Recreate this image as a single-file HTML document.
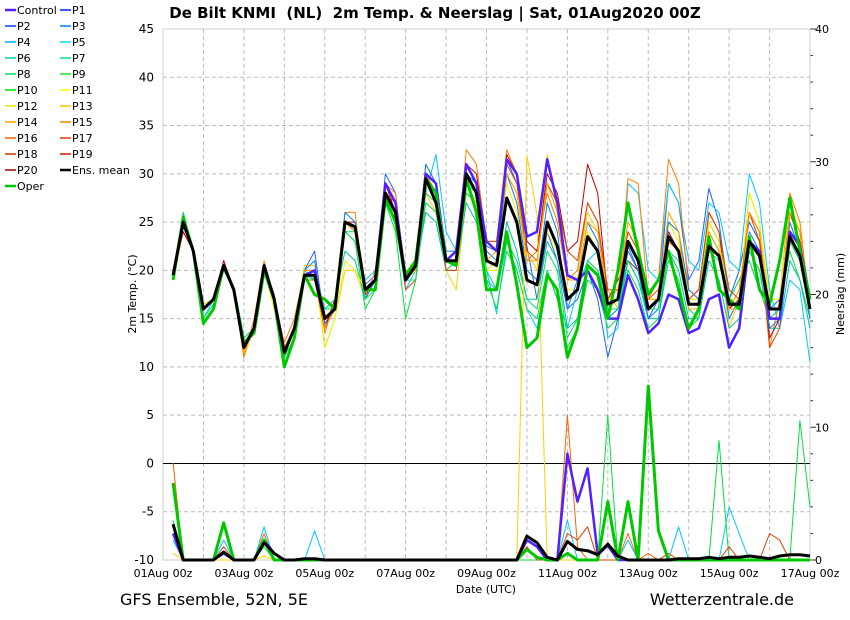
<!DOCTYPE html>
<html><head><meta charset="utf-8"><style>
body{margin:0;background:#fff;font-family:"Liberation Sans","DejaVu Sans",sans-serif}
svg{display:block}
</style></head><body>
<svg id="c" width="850" height="620" viewBox="0 0 850 620" font-family="DejaVu Sans, Liberation Sans, sans-serif">
<text x="435" y="18" text-anchor="middle" font-size="15" font-weight="bold" style="white-space:pre">De Bilt KNMI  (NL)  2m Temp. &amp; Neerslag | Sat, 01Aug2020 00Z</text>
<text x="120" y="605" font-size="16">GFS Ensemble, 52N, 5E</text>
<text x="794" y="605" font-size="16" text-anchor="end">Wetterzentrale.de</text>
<text x="486" y="593" font-size="11" text-anchor="middle">Date (UTC)</text>
<text transform="translate(136,294) rotate(-90)" font-size="11" text-anchor="middle">2m Temp. (°C)</text>
<text transform="translate(844,294) rotate(-90)" font-size="11" text-anchor="middle">Neerslag (mm)</text>
<g id="grid"></g><g id="axes"></g><g id="series"></g><g id="legend"></g>
</svg>
<script>
const dayLabels=["01Aug 00z","03Aug 00z","05Aug 00z","07Aug 00z","09Aug 00z","11Aug 00z","13Aug 00z","15Aug 00z","17Aug 00z"];
const tempTicks=[45,40,35,30,25,20,15,10,5,0,-5,-10];
const precTicks=[40,30,20,10,0];
const meanT=[19.5,25,22,16,17,20.5,18,12,14,20.5,17,11.5,14,19.5,19.5,15,16,25,24.5,18,19,28,26,19,20.5,29.5,27,21,21,30,28,21,20.5,27.5,25,19,18.5,25,22.5,17,18,23.5,22,16.5,17,23,21,16,17,23.5,22,16.5,16.5,22.5,21.5,16.5,16.5,23,21.5,16,16,23.5,21.5,16];
const operT=[19,25.5,22,14.5,16,20.5,18,12.5,13.5,20,17,10,13,19.5,17.5,17,16,25,24.5,18,18,27.5,25,19.5,21,29.5,28,21,20.5,29.5,26,18,18,24,18.5,12,13,19.5,18,11,14,20.5,19.5,15,20,27,22,17.5,19,22,18,14,16,23.5,18,17,16,23.5,18,16.5,21,27.5,22,17];
const ctrlT=[19.5,25,22,16,17,20.5,18,12,14,20.5,17,11.5,14,19.5,20,15,16,25,24.5,18,19,29,27,19,20.5,30,29,21,22,31,29,23,22,31.5,30,23.5,24,31.5,27,19.5,19,20,18,15,15,19.5,17,13.5,14.5,17.5,17,13.5,14,17,17.5,12,14,23,22,15,15,24,22.5,17];
const m1T=[19.5,25,22,16,17,21,18,12.5,14,20.5,17.5,11,14,20,22,14.5,16,25,24,18.5,19.5,30,28,19,20.5,30,28,21,22,31,29,22.5,22,31.5,29,22.5,17,24,21,16,17,20,17,11,15,22.5,20,15,17,29,27,19,21,28.5,25,17,20,25,23,16,17,26,24,17];
const m2T=[19.5,26,22,15,17,20.5,18,13,14,20,17,11,14,20,19,16,16,24,23,19,20,27,25,18,20,28,32,24,22,28,27,20,15.5,23,20,16,14,20,17,14,18,21,22,13,14,29,28,20,19,29,27,21,20,27,26,21,20,30,27,18,14,19,18,10.5];
const m3T=[19.5,25,22,16.5,17,20.5,18,11,14,20,16,12,14,20.5,20.5,12,15,20,20,17,19,27,25,19,20,28,26,20,18,28,27,20,21,30,28,22,20,32,26,19,20,26,24,18,16,24,22,16,16,25,24,17,17,24,22,14,17,28,25,16,16,28,25,16];
const m4T=[19,24,22,16,17,21,18,11,15,21,17,12.5,15,20,20,13.5,17,26,26,17,20,29,28,19,21,31,29,21,21,32.5,31,23,23,32.5,30,21,22,28,25,19,20,27,25,16,17,29.5,29,17,19,31.5,29,18,17,25,23,16,18,26,24,12,17,28,25,16];
const m5T=[20,24,22,16,17,21,18,12,14,20,17,12,14,19,19,14,17,25,25,17.5,19,29,26,19,21,30,29,21,21,31,30,23,22,32,30,23,22,30,28,22,23,31,28,17,19,21,20,16,17,24,22,17,18,26,24,16,17,26,24,13,15,26,23,16];
const m6T=[19,26,22,14.5,16,20.5,18,13,14,20,17,10,13,19,19,16,16,24,23,16,18,27,24,15,19,27,26,20,21,28,27,19,16,22,20,16,15,20,17,12,14,19,18,14,15,20,18,14,15,21,19,14,15,25,23,17,19,21,18,15,16,22,19,15];
const m7T=[19.5,25,22,16,17,20,18,12.5,14,20,17,11,14,20,20,16,17,22,21,17,19,27,25,19,20,26,25,20,20,27,25,19,18,25,22,17,17,23,21,14,15,21,20,15,15,21,19,15,15,22,20,15,15,21,19,14,15,22,20,14,14,21,19,14];
const m8T=[19.5,25,22,16,17,20.5,18,12,14,20,16,12,14,20,20,12,15,21,20,18,19,27,26,19,20,29,27,21,21,29,27,20,20,29,26,20,19,24,22,18,18,24,22,17,17,24,22,17,17,25,23,17,17,25,23,17,17,28,25,17,17,27,24,16];
const m9T=[19.5,24.5,22,16,17,20.5,18,12,14,20.5,17,11.5,14,20,21,14,16,26,25,17,19,29,27,20,20,31,29,22,22,30,29,22,21,30,27,20,19,27,24,16,19,25,23,15,16,22,20,15,16,25,24,18,17,24,22,15,17,24,22,14,15,25,22,15];
const m10T=[19.5,25,22,16,17,20.5,18,12,14,20,17,11,14,19,19,14,16,25,24,18,19,28,27,18,19,30,28,20,20,31,29,23,23,31,29,22,21,29,27,22,21,27,25,18,18,24,22,17,18,23,22,17,18,26,24,18,17,26,23,12,14,26,24,16];
const m11T=[19.5,25,22,15,16.5,20.5,18,12,14,20,17,11,13,19.5,19,15,16,24,24,17,18,28,26,19,19,28,27,21,21,29,28,20,18,23,21,17,16,22,20,13,15,21,20,16,16,21,19,16,16,22,21,16,15,22,21,16,16,22,20,16,16,23,21,16];
const m12T=[19.5,25,22,16,17,20.5,18,11.5,14,20.5,17,12,14,20,20,14,16,25,24,18,19,29,27,20,20,30,28,21,21,31,29,21,22,30,28,21,21,29,26,19,19,25,24,17,18,25,23,17,17,26,24,16,16,24,22,16,16,26,24,15,15,26,24,16];
const meanP=[2.7,0,0,0,0,0.6,0,0,0,1.3,0.5,0,0,0.1,0.1,0,0,0,0,0,0,0,0,0,0,0,0,0,0,0,0,0,0,0,0,1.8,1.3,0.2,0,1.4,0.8,0.7,0.4,1.2,0.3,0,0,0,0,0,0.1,0.1,0.1,0.2,0.1,0.2,0.2,0.3,0.2,0.1,0.3,0.4,0.4,0.3];
const ctrlP=[2,0,0,0,0,0.5,0,0,0,1.5,0.5,0,0,0,0,0,0,0,0,0,0,0,0,0,0,0,0,0,0,0,0,0,0,0,0,1.5,1,0,0,8,4.4,6.9,0.4,1.1,0,0,0,0,0,0,0,0,0,0,0,0,0,0,0,0,0,0,0,0];
const operP=[5.8,0,0,0,0,2.8,0,0,0,1.5,0,0,0,0,0,0,0,0,0,0,0,0,0,0,0,0,0,0,0,0,0,0,0,0,0,0.8,0.2,0,0,0.5,0,0,0,4.4,0,4.4,0,13.1,2.2,0,0,0,0,0,0,0,0,0,0,0,0,0,0,0];
const m6P=[3,0,0,0,0,2.8,0,0,0,1,0,0,0,0,0,0,0,0,0,0,0,0,0,0,0,0,0,0,0,0,0,0,0,0,0,0,0,0,0,0,0,0,0,10.9,0,0,0,0,0,0,0,0,0,0,9,0,0,0,0,0,0,0,10.5,4];
const m8P=[0.5,0,0,0,0,0,0,0,0,0.3,0,0,0,0,0,0,0,0,0,0,0,0,0,0,0,0,0,0,0,0,0,0,0,0,0,30.5,26,0,0,0,0,0,0,0,0,0,0,0,0,0,0,0,0,0,0,0,0,0,0,0,0,0,0,0];
const m4P=[7.3,0,0,0,0,0.5,0,0,0,2,0,0,0,0,0,0,0,0,0,0,0,0,0,0,0,0,0,0,0,0,0,0,0,0,0,0,0,0,0,10.9,1,0,0,0,0,2,0,0.5,0,0,0,0,0,0,0,0,0,0,0,0,0,0,0,0];
const m2P=[1.5,0,0,0,0,1.5,0,0,0,2.5,0,0,0,0,2.2,0,0,0,0,0,0,0,0,0,0,0,0,0,0,0,0,0,0,0,0,0,0,0,0,3,0,0,0,0,0,1.5,0,0,0,0,2.5,0,0,0,0,4,2,0,0,0,0,0,0,0];
const m10P=[2,0,0,0,0,1,0,0,0,1.5,0,0,0,0,0,0,0,0,0,0,0,0,0,0,0,0,0,0,0,0,0,0,0,0,0,1,0,0,0,2,1.5,2.5,0,0,0,0,0,0,0,0.5,0,0,0,0,0,1,0,0,0,2,1.5,0,0,0];
const NS="http://www.w3.org/2000/svg";
const X0=163,X1=810,DAYS=16;
const xDay=d=>X0+(X1-X0)*d/DAYS;
const xStep=i=>xDay((i+1)/4);
const yT=t=>29+(45-t)*(531/55);
const yP=p=>560-p*(531/40);
function mk(tag,attrs,parent){const e=document.createElementNS(NS,tag);for(const k in attrs)e.setAttribute(k,attrs[k]);parent.appendChild(e);return e;}
const grid=document.getElementById('grid'),axes=document.getElementById('axes'),ser=document.getElementById('series'),leg=document.getElementById('legend');
for(let d=1;d<DAYS;d++){const l=mk('line',{x1:xDay(d),x2:xDay(d),y1:29,y2:560,stroke:'#bbb','stroke-dasharray':'4,3'},grid);

}
tempTicks.forEach(t=>{
 if(t!==45&&t!==-10&&t!==0){const g=mk('line',{x1:X0,x2:X1,y1:yT(t),y2:yT(t),stroke:'#bbb','stroke-dasharray':'4,3'},grid);
 
 }
 const tx=mk('text',{x:154,y:yT(t)+4,'font-size':12,'text-anchor':'end'},axes);tx.textContent=t;
 
 
});
precTicks.forEach(p=>{const tx=mk('text',{x:815,y:yP(p)+4,'font-size':11},axes);tx.textContent=p;
 
 });
for(let p=0;p<=40;p+=2){mk('line',{x1:X1,x2:X1+(p%10===0?6:3),y1:yP(p),y2:yP(p),stroke:'#333'},axes);}
dayLabels.forEach((s,k)=>{const tx=mk('text',{x:xDay(k*2),y:577,'font-size':11,'text-anchor':'middle'},axes);tx.textContent=s;
 
 });
const fr=mk('rect',{x:X0,y:29,width:X1-X0,height:531,fill:'none',stroke:'#ccc'},axes);


const zl=mk('line',{x1:X0,x2:X1,y1:yT(0),y2:yT(0),stroke:'#000'},axes);


function line(vals,fy,color,w,name){const pts=vals.map((v,i)=>xStep(i).toFixed(1)+','+fy(v).toFixed(1)).join(' ');
 const e=mk('polyline',{points:pts,fill:'none',stroke:color,'stroke-width':w,'stroke-linejoin':'round'},ser);
 
 }
const members=[[m1T,'#2060ff','p1-temp-line'],[m2T,'#00c8ff','p5-temp-line'],[m3T,'#ffd000','p13-temp-line'],[m4T,'#ff8000','p15-temp-line'],[m5T,'#c00000','p20-temp-line'],[m6T,'#00e040','p9-temp-line'],[m7T,'#00c0a0','p7-temp-line'],[m8T,'#f0f000','p11-temp-line'],[m9T,'#0080ff','p3-temp-line'],[m10T,'#e04000','p17-temp-line'],[m11T,'#00e060','p8-temp-line'],[m12T,'#ffa000','p14-temp-line']];
members.forEach(m=>line(m[0],yT,m[1],1,m[2]));
line(m2P,yP,'#00c8ff',1,'p5-precip-line');
line(m4P,yP,'#ff6000',1,'p15-precip-line');
line(m6P,yP,'#00e040',1,'p9-precip-line');
line(m8P,yP,'#ffd000',1,'p11-precip-line');
line(m10P,yP,'#e04000',1,'p17-precip-line');
line(ctrlT,yT,'#5020ff',2.5,'control-temp-line');
line(ctrlP,yP,'#5020ff',2.5,'control-precip-line');
line(operT,yT,'#00c800',3,'oper-temp-line');
line(operP,yP,'#00c800',3,'oper-precip-line');
line(meanT,yT,'#000',3,'mean-temp-line');
line(meanP,yP,'#000',3,'mean-precip-line');
const legItems=[["Control","#5020ff"],["P1","#0020ff"],["P2","#0040ff"],["P3","#0080ff"],["P4","#00b0ff"],["P5","#00e0ff"],["P6","#00d0b0"],["P7","#00e090"],["P8","#00e060"],["P9","#20e020"],["P10","#00e000"],["P11","#ffff00"],["P12","#f0e000"],["P13","#ffc000"],["P14","#ffa000"],["P15","#ff8000"],["P16","#ff6000"],["P17","#e04000"],["P18","#d03000"],["P19","#c02000"],["P20","#a00000"],["Ens. mean","#000"],["Oper","#00c800"]];
legItems.forEach((it,k)=>{const col=k%2,row=Math.floor(k/2);const x=5+col*55,y=10+row*16;
 const g=mk('g',{},leg);
 
 
 mk('line',{x1:x,x2:x+11,y1:y,y2:y,stroke:it[1],'stroke-width':(k>=21||k==0)?2.5:1.5},g);
 const t=mk('text',{x:x+12,y:y+4,'font-size':11},g);t.textContent=it[0];});
</script>
</body></html>
